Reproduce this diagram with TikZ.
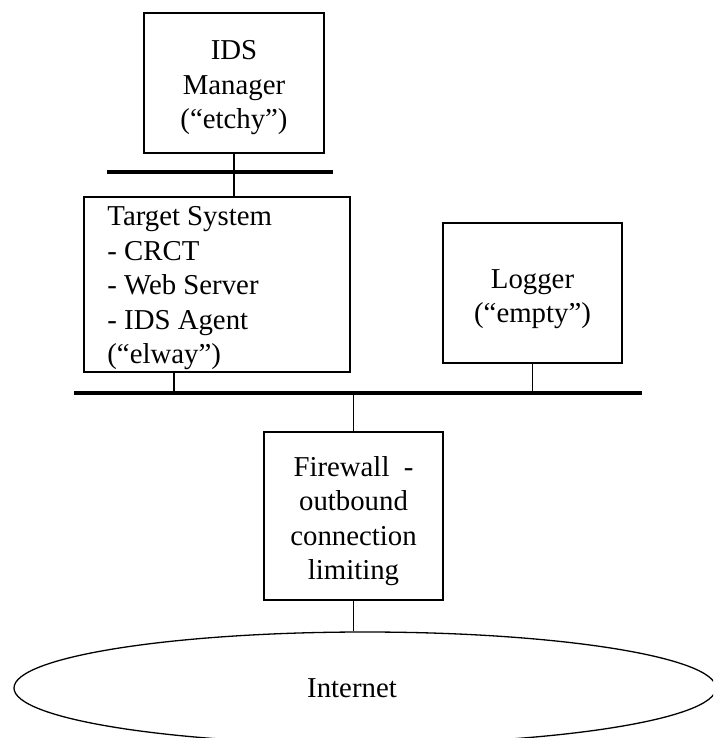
\documentclass[tikz,border=0pt]{standalone}
\usepackage{fontspec}
\setmainfont{Liberation Serif}
\usetikzlibrary{shapes.geometric}
\begin{document}
\begin{tikzpicture}[x=1pt,y=-1pt,
  box/.style={draw,line width=1.6pt,rectangle,inner sep=0pt},
  txt/.style={inner sep=0pt,align=center,font=\fontsize{28.8}{34.5}\selectfont},
  bus/.style={line width=4pt},
  wire/.style={line width=1.3pt}]
\useasboundingbox (0,0) rectangle (713,738);
\clip (0,0) rectangle (713,738);
% boxes
\node[box,minimum width=180,minimum height=140] (mgr) at (234,83) {};
\node[box,minimum width=266,minimum height=175] (tgt) at (217,284.5) {};
\node[box,minimum width=179,minimum height=140] (log) at (532.5,293) {};
\node[box,minimum width=179,minimum height=168] (fw) at (353.5,516) {};
\node[draw,line width=1.3pt,ellipse,minimum width=702,minimum height=112,inner sep=0pt] (inet) at (365,688) {};
% texts
\node[txt] (mgrtxt) at ([yshift=-5pt]mgr.center) {IDS\\Manager\\(“etchy”)};
\node[txt,align=left,anchor=west] (tgttxt) at ([xshift=24pt,yshift=-4pt]tgt.west) {Target System\\- CRCT\\- Web Server\\- IDS Agent\\(“elway”)};
\node[txt] (logtxt) at ([yshift=-6pt]log.center) {Logger\\(“empty”)};
\node[txt] (fwtxt) at ([yshift=-5pt]fw.center) {Firewall\ \ -\\outbound\\connection\\limiting};
\node[txt] (inettxt) at (352,688) {Internet};
% buses
\coordinate (b1l) at (107,172);
\coordinate (b1r) at (333,172);
\coordinate (b2l) at (74,393);
\coordinate (b2r) at (642,393);
\coordinate (td) at (174,393);
\draw[bus] (b1l) -- (b1r);
\draw[bus] (b2l) -- (b2r);
% connectors
\draw[wire] (mgr.south) -- (mgr.south |- tgt.north);
\draw[wire] (td |- tgt.south) -- (td);
\draw[wire] (log.south) -- (log.south |- b2l);
\draw[wire] (fw.north |- b2l) -- (fw.north);
\draw[wire] (fw.south) -- (fw.south |- inet.north);
\end{tikzpicture}
\end{document}
